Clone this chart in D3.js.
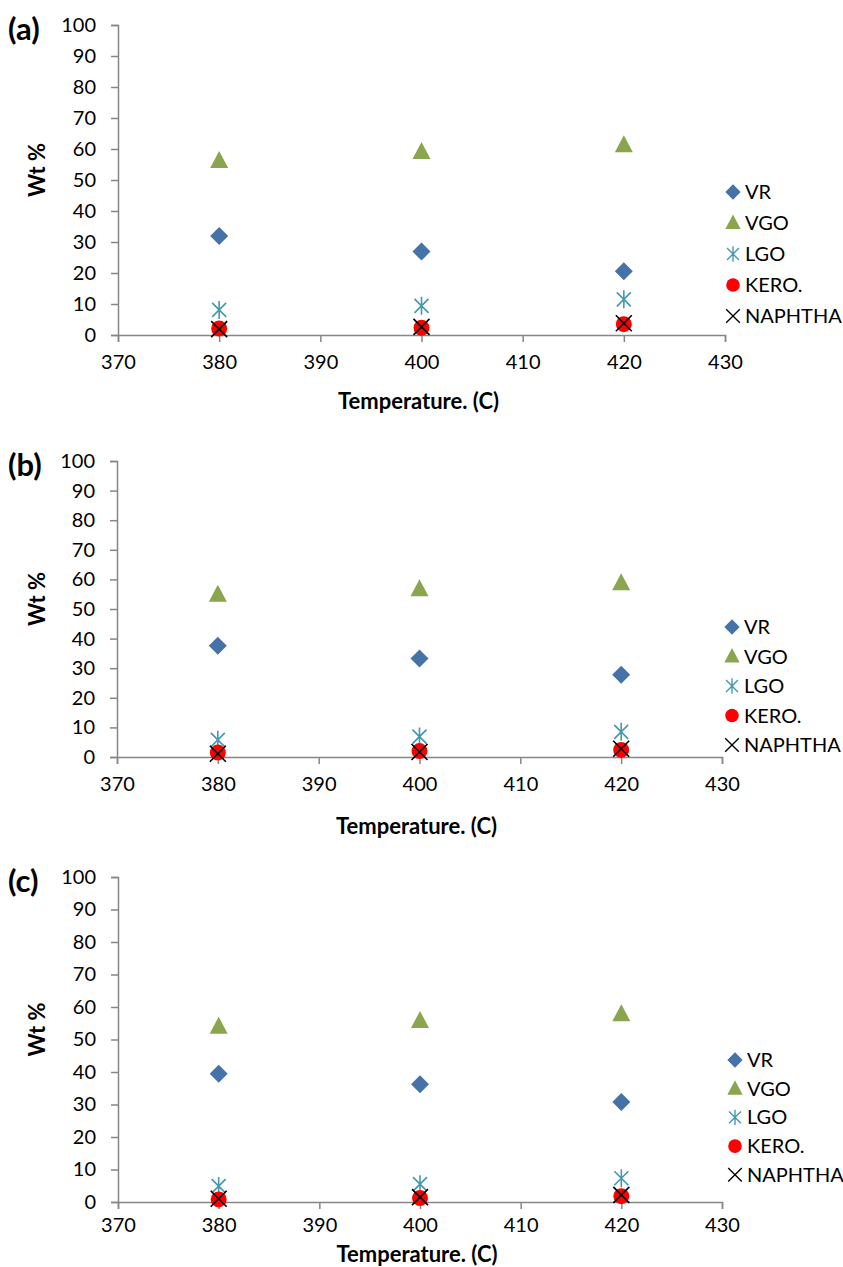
<!DOCTYPE html>
<html>
<head>
<meta charset="utf-8">
<script src="https://cdn.jsdelivr.net/npm/d3@7"></script>
<style>
  body { margin: 0; background: #fff; }
  svg text { font-family: Lato, "Open Sans", sans-serif; fill: #000; }
</style>
</head>
<body>
<div id="chart"></div>
<script>
// Data
const temps = [380, 400, 420]
const seriesNames = ["VR", "VGO", "LGO", "KERO.", "NAPHTHA"]
const panelLabels = ["(a)", "(b)", "(c)"]
const xTicks = [370, 380, 390, 400, 410, 420, 430]
const yTicks = [0, 10, 20, 30, 40, 50, 60, 70, 80, 90, 100]

const vrA = [31.9, 26.9, 20.6]
const vgoA = [56.1, 59.0, 61.2]
const lgoA = [8.1, 9.4, 11.5]
const keroA = [2.1, 2.3, 3.5]
const naphthaA = [1.9, 2.6, 3.8]

const vrB = [37.6, 33.3, 27.8]
const vgoB = [54.8, 56.7, 58.7]
const lgoB = [5.8, 6.9, 8.5]
const keroB = [1.5, 2.0, 2.4]
const naphthaB = [1.1, 1.7, 2.8]

const vrC = [39.5, 36.2, 30.8]
const vgoC = [53.9, 55.7, 57.8]
const lgoC = [4.9, 5.5, 7.3]
const keroC = [0.8, 1.2, 1.8]
const naphthaC = [1.0, 1.5, 2.2]

const panelData = [
    [vrA, vgoA, lgoA, keroA, naphthaA],
    [vrB, vgoB, lgoB, keroB, naphthaB],
    [vrC, vgoC, lgoC, keroC, naphthaC]
]

// layout of each panel (pixels)
const boxes = [
    {left: 118, right: 725, top: 25, bottom: 335, tickPad: 13, titleDy: 66, legTop: 192, legStep: 31, legX: 733},
    {left: 117, right: 722, top: 461, bottom: 757, tickPad: 13, titleDy: 69, legTop: 627, legStep: 29.5, legX: 732},
    {left: 118, right: 722, top: 877, bottom: 1202, tickPad: 9, titleDy: 52, legTop: 1060, legStep: 28.7, legX: 735}
]

const colors = ["#4572A7", "#89A54E", "#4198AF", "#FF0000", "#000000"]
const axisColor = "#868686"

const svg = d3.select("#chart").append("svg")
    .attr("width", 843)
    .attr("height", 1267)

// marker drawing, one per series
function drawMarker(g, i) {
    if (i === 0) {
        g.append("path").attr("d", "M0,-9L9,0L0,9L-9,0Z").attr("fill", colors[0])
    } else if (i === 1) {
        g.append("path").attr("d", "M0,-10L9,7L-9,7Z").attr("fill", colors[1])
    } else if (i === 2) {
        g.append("path")
            .attr("d", "M-7,-7L7,7M-7,7L7,-7M0,-9L0,9")
            .attr("stroke", colors[2]).attr("stroke-width", 1.6).attr("fill", "none")
    } else if (i === 3) {
        g.append("circle").attr("r", 8).attr("fill", colors[3])
    } else {
        g.append("path")
            .attr("d", "M-8,-8L8,8M-8,8L8,-8")
            .attr("stroke", colors[4]).attr("stroke-width", 1.6).attr("fill", "none")
    }
}

panelData.forEach((series, p) => {
    const b = boxes[p]
    const x = d3.scaleLinear().domain([370, 430]).range([b.left, b.right])
    const y = d3.scaleLinear().domain([0, 100]).range([b.bottom, b.top])

    const g = svg.append("g")

    // y axis
    g.append("g")
        .attr("transform", "translate(" + b.left + ",0)")
        .call(d3.axisLeft(y).tickValues(yTicks).tickSize(7).tickPadding(15))
        .call(a => a.select(".domain").attr("stroke", axisColor).attr("stroke-width", 1.5))
        .call(a => a.selectAll(".tick line").attr("stroke", axisColor).attr("stroke-width", 1.5))
        .call(a => a.selectAll(".tick text").attr("font-size", 20).attr("font-family", "Lato, sans-serif").attr("fill", "#000"))

    // x axis
    g.append("g")
        .attr("transform", "translate(0," + b.bottom + ")")
        .call(d3.axisBottom(x).tickValues(xTicks).tickSize(7).tickPadding(b.tickPad))
        .call(a => a.select(".domain").attr("stroke", axisColor).attr("stroke-width", 1.5))
        .call(a => a.selectAll(".tick line").attr("stroke", axisColor).attr("stroke-width", 1.5))
        .call(a => a.selectAll(".tick text").attr("font-size", 20).attr("font-family", "Lato, sans-serif").attr("fill", "#000"))

    // titles
    g.append("text")
        .attr("x", (b.left + b.right) / 2 - 3)
        .attr("y", b.bottom + b.titleDy)
        .attr("dy", "0.35em")
        .attr("text-anchor", "middle")
        .attr("font-size", 22)
        .attr("font-weight", "bold")
        .text("Temperature. (C)")

    g.append("text")
        .attr("transform", "translate(37," + ((b.top + b.bottom) / 2 - 10) + ") rotate(-90)")
        .attr("dy", "0.35em")
        .attr("text-anchor", "middle")
        .attr("font-size", 22)
        .attr("font-weight", "bold")
        .text("Wt %")

    g.append("text")
        .attr("x", 8)
        .attr("y", b.top + 4)
        .attr("dy", "0.35em")
        .attr("font-size", 31)
        .attr("font-weight", "bold")
        .text(panelLabels[p])

    // points
    series.forEach((vals, i) => {
        g.append("g").selectAll("g")
            .data(vals)
            .join("g")
            .attr("transform", (d, k) => `translate(${x(temps[k])},${y(d)})`)
            .each(function () { drawMarker(d3.select(this), i) })
    })

    // legend
    seriesNames.forEach((name, i) => {
        const row = g.append("g")
            .attr("transform", `translate(${b.legX},${b.legTop + i * b.legStep})`)
        const m = row.append("g").attr("transform", "scale(0.85)")
        drawMarker(m, i)
        row.append("text")
            .attr("x", 12)
            .attr("dy", "0.35em")
            .attr("font-size", 20)
            .text(name)
    })
})
</script>
</body>
</html>
